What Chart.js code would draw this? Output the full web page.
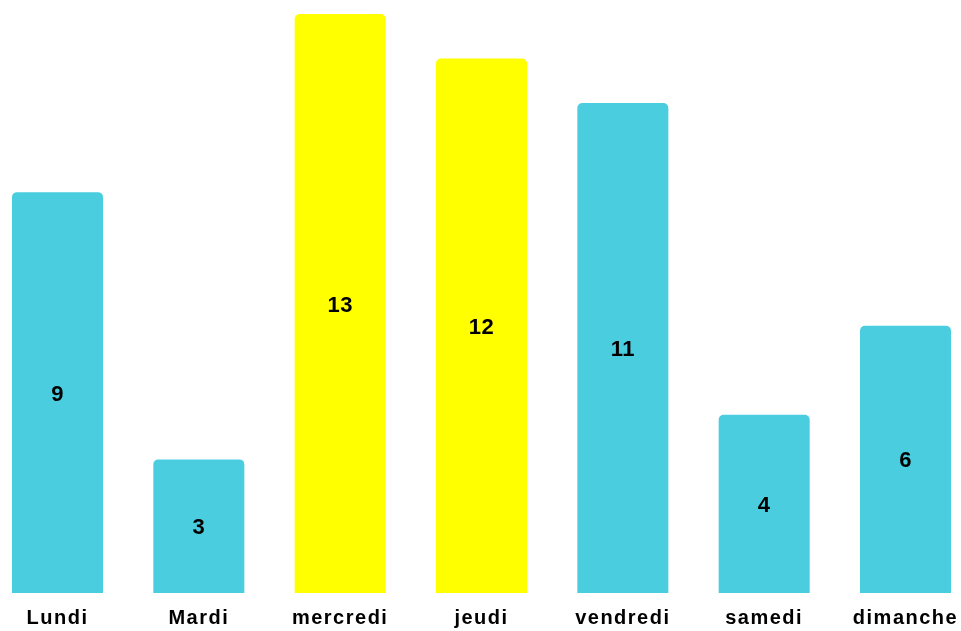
<!DOCTYPE html>
<html>
<head>
<meta charset="utf-8">
<script src="https://cdn.jsdelivr.net/npm/chart.js@4"></script>
<style>
  html, body { margin: 0; padding: 0; background: #fff; }
  #wrap { width: 961px; height: 631px; }
</style>
</head>
<body>
<div id="wrap"><canvas id="chart"></canvas></div>
<script>
const days = ["Lundi", "Mardi", "mercredi", "jeudi", "vendredi", "samedi", "dimanche"];
const counts = [9, 3, 13, 12, 11, 4, 6];
const barColors = ["#4bcde0", "#4bcde0", "#ffff00", "#ffff00", "#4bcde0", "#4bcde0", "#4bcde0"];

// wider tracking for the day names
const tracking = {
    id: "tracking",
    beforeDraw(chart) {
        chart.ctx.letterSpacing = "1.5px";
    }
};

// draws each value in the middle of its bar
const centerLabels = {
    id: "centerLabels",
    afterDatasetsDraw(chart) {
        const ctx = chart.ctx;
        const meta = chart.getDatasetMeta(0);
        ctx.save();
        ctx.letterSpacing = "0.5px";
        ctx.font = "bold 22px 'Liberation Sans'";
        ctx.fillStyle = "#000";
        ctx.textAlign = "center";
        ctx.textBaseline = "middle";
        meta.data.forEach((bar, i) => {
            let mid = (bar.y + bar.base) / 2 + 2;
            ctx.fillText(counts[i], bar.x, mid);
        });
        ctx.restore();
    }
};

new Chart(document.getElementById("chart"), {
    type: "bar",
    data: {
        labels: days,
        datasets: [{
            data: counts,
            backgroundColor: barColors,
            borderRadius: { topLeft: 5, topRight: 5 },
            borderSkipped: "bottom",
            categoryPercentage: 0.8,
            barPercentage: 0.805,
            clip: false
        }]
    },
    options: {
        responsive: true,
        maintainAspectRatio: false,
        animation: false,
        layout: { padding: { left: 57.5, right: 55.5, top: 14, bottom: 0 } },
        plugins: {
            legend: { display: false },
            tooltip: { enabled: false }
        },
        scales: {
            x: {
                offset: false,
                grid: {
                    display: true,
                    drawOnChartArea: false,
                    color: "rgba(0,0,0,0)",
                    tickLength: 13
                },
                border: { display: false },
                ticks: {
                    color: "#000",
                    font: { family: "'Liberation Sans'", size: 20, weight: "bold", lineHeight: 1.25 },
                    padding: 0,
                    maxRotation: 0
                }
            },
            y: {
                display: false,
                min: 0,
                max: 13
            }
        }
    },
    plugins: [tracking, centerLabels]
});
</script>
</body>
</html>
